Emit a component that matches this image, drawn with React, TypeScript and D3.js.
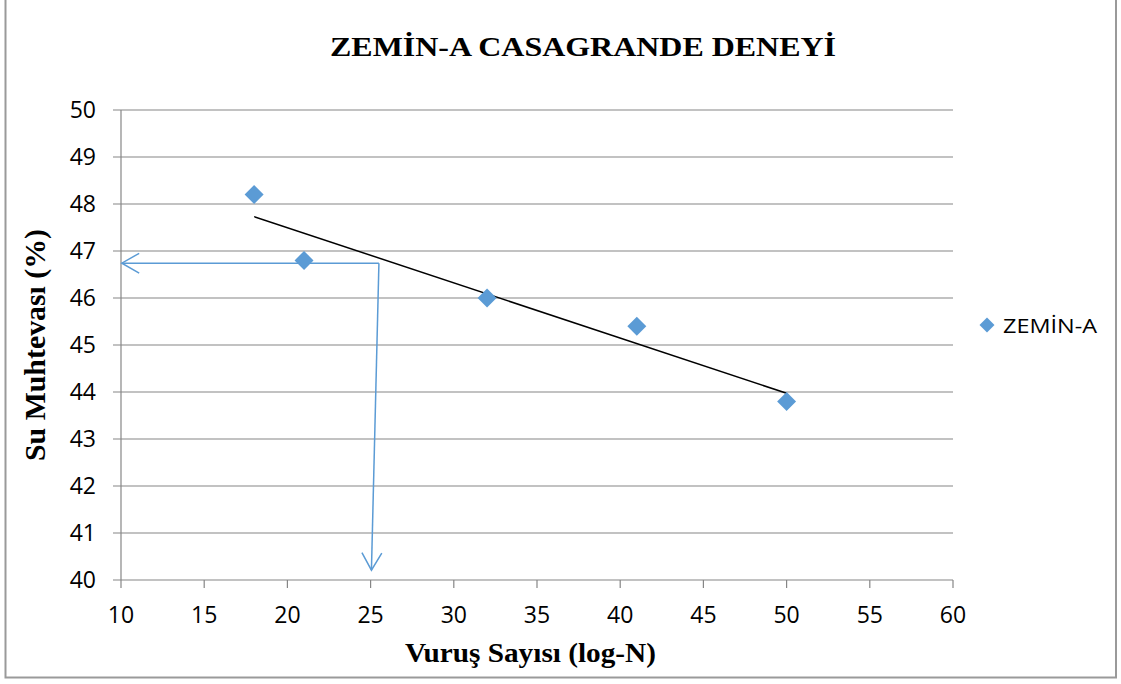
import React from "react";
import * as d3 from "d3";

// ---- data ----
const blows = [18, 21, 32, 41, 50];
const water = [48.2, 46.8, 46.0, 45.4, 43.8];
const xTicks = [10, 15, 20, 25, 30, 35, 40, 45, 50, 55, 60];
const yTicks = [40, 41, 42, 43, 44, 45, 46, 47, 48, 49, 50];
const arrowH: [number, number][] = [[25.5, 46.74], [10.05, 46.74]];
const arrowV: [number, number][] = [[25.5, 46.74], [25.05, 40.21]];
const seriesName = "ZEMİN-A";
const titleText = "ZEMİN-A CASAGRANDE DENEYİ";
const xTitle = "Vuruş  Sayısı (log-N)";
const yTitle = "Su Muhtevası  (%)";

const W = 1121;
const H = 684;
const BLUE = "#5B9BD5";
const GRID = "#868686";

export default function App() {
  const x = d3.scaleLinear().domain([10, 60]).range([121, 953]);
  const y = d3.scaleLinear().domain([40, 50]).range([580, 110]);

  // linear trendline (least squares)
  const mx = d3.mean(blows)!;
  const my = d3.mean(water)!;
  let sxy = 0, sxx = 0;
  blows.forEach((b, i) => {
    sxy += (b - mx) * (water[i] - my);
    sxx += (b - mx) * (b - mx);
  });
  const slope = sxy / sxx;
  const icpt = my - slope * mx;
  const x0 = d3.min(blows)!;
  const x1 = d3.max(blows)!;
  const line = d3.line<[number, number]>().x((d) => x(d[0])).y((d) => y(d[1]));

  const marker = d3.symbol().type(d3.symbolSquare).size(180)()!;
  const legMarker = d3.symbol().type(d3.symbolSquare).size(112)()!;

  const head = (tip: [number, number], from: [number, number]) => {
    const tx = x(tip[0]), ty = y(tip[1]);
    const fx = x(from[0]), fy = y(from[1]);
    const ang = Math.atan2(fy - ty, fx - tx);
    const L = 20, a = 0.52;
    const p1 = [tx + L * Math.cos(ang + a), ty + L * Math.sin(ang + a)];
    const p2 = [tx + L * Math.cos(ang - a), ty + L * Math.sin(ang - a)];
    return `M${p1[0]},${p1[1]}L${tx},${ty}L${p2[0]},${p2[1]}`;
  };

  return (
    <svg
      width={W}
      height={H}
      style={{ position: "absolute", left: 0, top: 0, background: "#fff" }}
    >
      <rect x={0} y={0} width={W} height={H} fill="#fff" />
      <rect x={5.5} y={-3} width={1110.5} height={680.5} fill="none" stroke="#9a9a9a" strokeWidth={2} />

      <text
        x={330}
        y={56}
        fontFamily="'Liberation Serif', 'Times New Roman', serif"
        fontWeight="bold"
        fontSize={28}
        textLength={506}
        lengthAdjust="spacingAndGlyphs"
        fill="#000"
      >
        {titleText}
      </text>

      {/* gridlines */}
      {yTicks.map((t) => (
        <line
          key={"g" + t}
          x1={113}
          x2={t === 40 ? x(60) : x(60)}
          y1={y(t)}
          y2={y(t)}
          stroke={GRID}
          strokeWidth={1.2}
        />
      ))}
      {/* y axis */}
      <line x1={x(10)} x2={x(10)} y1={y(50)} y2={y(40)} stroke={GRID} strokeWidth={1.2} />
      {/* x ticks */}
      {xTicks.map((t) => (
        <line key={"xt" + t} x1={x(t)} x2={x(t)} y1={y(40)} y2={y(40) + 8} stroke={GRID} strokeWidth={1.2} />
      ))}

      {yTicks.map((t) => (
        <text
          key={"yl" + t}
          x={96}
          y={y(t) + 8.3}
          textAnchor="end"
          fontFamily="'Open Sans', sans-serif"
          fontSize={23}
          fill="#000"
        >
          {t}
        </text>
      ))}
      {xTicks.map((t) => (
        <text
          key={"xl" + t}
          x={x(t)}
          y={622.5}
          textAnchor="middle"
          fontFamily="'Open Sans', sans-serif"
          fontSize={23}
          fill="#000"
        >
          {t}
        </text>
      ))}

      {/* reading arrows */}
      <path d={line(arrowH)!} fill="none" stroke={BLUE} strokeWidth={1.5} />
      <path d={head(arrowH[1], arrowH[0])} fill="none" stroke={BLUE} strokeWidth={1.5} />
      <path d={line(arrowV)!} fill="none" stroke={BLUE} strokeWidth={1.5} />
      <path d={head(arrowV[1], arrowV[0])} fill="none" stroke={BLUE} strokeWidth={1.5} />

      {/* trendline */}
      <path
        d={line([[x0, icpt + slope * x0], [x1, icpt + slope * x1]])!}
        fill="none"
        stroke="#000"
        strokeWidth={1.5}
      />

      {/* markers */}
      {blows.map((b, i) => (
        <path
          key={"m" + i}
          d={marker}
          transform={`translate(${x(b)},${y(water[i])}) rotate(45)`}
          fill={BLUE}
        />
      ))}

      {/* legend */}
      <path d={legMarker} transform="translate(987,325) rotate(45)" fill={BLUE} />
      <text
        x={1003}
        y={333}
        fontFamily="'Open Sans', sans-serif"
        fontSize={20}
        textLength={94}
        lengthAdjust="spacingAndGlyphs"
        fill="#000"
      >
        {seriesName}
      </text>

      {/* axis titles */}
      <text
        x={405}
        y={662}
        fontFamily="'Liberation Serif', 'Times New Roman', serif"
        fontWeight="bold"
        fontSize={28}
        textLength={251}
        lengthAdjust="spacingAndGlyphs"
        fill="#000"
      >
        {xTitle}
      </text>
      <text
        transform="translate(45,345) rotate(-90) scale(1,1.12)"
        x={0}
        y={0}
        textAnchor="middle"
        fontFamily="'Liberation Serif', 'Times New Roman', serif"
        fontWeight="bold"
        fontSize={27}
        textLength={232}
        lengthAdjust="spacingAndGlyphs"
        fill="#000"
      >
        {yTitle}
      </text>
    </svg>
  );
}
